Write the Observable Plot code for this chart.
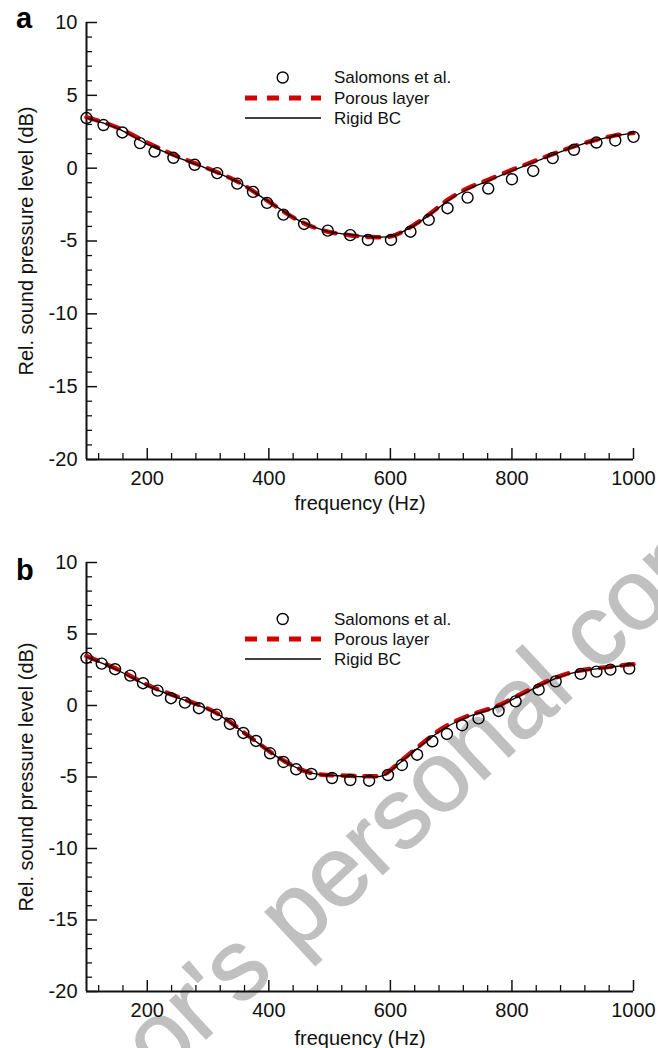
<!DOCTYPE html>
<html><head><meta charset="utf-8">
<script src="https://cdn.jsdelivr.net/npm/d3@7"></script>
<script src="https://cdn.jsdelivr.net/npm/@observablehq/plot@0.6"></script>
<style>
body{margin:0;background:#fff;font-family:"Liberation Sans",Arial,sans-serif;}
#wrap{position:relative;width:658px;height:1048px;overflow:hidden;}
.layer{position:absolute;left:0;}
</style></head><body><div id="wrap"></div>
<script>
// ---- data ----
const xMajor = [200, 400, 600, 800, 1000];
const xMinor = [120,160,240,280,320,360,440,480,520,560,640,680,720,760,840,880,920,960];
const yMajor = [-20, -15, -10, -5, 0, 5, 10];
const yMinor = [-19,-18,-17,-16,-14,-13,-12,-11,-9,-8,-7,-6,-4,-3,-2,-1,1,2,3,4,6,7,8,9];
const legendLabels = ["Salomons et al.", "Porous layer", "Rigid BC"];
const xTitle = "frequency (Hz)";
const yTitle = "Rel. sound pressure level (dB)";
const watermarkText = "Author's personal copy";

// panel a
const aFreq = [100,128,159,188,212,243,278,315,348,374,397,424,458,497,534,563,601,633,663,694,727,761,800,835,867,902,939,970,1000];
const aMeas = [3.44,2.96,2.45,1.72,1.14,0.71,0.23,-0.34,-1.06,-1.63,-2.38,-3.19,-3.83,-4.29,-4.6,-4.93,-4.93,-4.36,-3.55,-2.75,-2.02,-1.40,-0.76,-0.19,0.69,1.26,1.76,1.90,2.15];
const aCurveFreq = [100,150,200,250,300,350,400,450,493,530,563,601,633,666,694,727,761,800,835,867,902,939,970,1000];
const aRigid  = [3.45,2.75,1.65,0.74,-0.06,-0.97,-2.3,-3.6,-4.3,-4.55,-4.7,-4.68,-4.08,-3.16,-2.25,-1.45,-0.87,-0.19,0.39,0.91,1.46,1.92,2.22,2.4];
const aPorous = [3.5,2.8,1.75,0.8,-0.02,-0.95,-2.3,-3.62,-4.32,-4.58,-4.72,-4.68,-4.05,-3.1,-2.18,-1.38,-0.8,-0.12,0.45,0.97,1.5,1.95,2.25,2.42];

// panel b
const bFreq = [100,125,147,172,193,217,239,262,285,314,336,358,379,402,424,445,470,504,534,565,596,619,644,669,693,718,745,778,806,844,872,913,939,962,993];
const bMeas = [3.33,2.93,2.54,2.09,1.56,1.04,0.51,0.2,-0.19,-0.64,-1.29,-1.92,-2.48,-3.34,-3.95,-4.46,-4.79,-5.07,-5.21,-5.26,-4.86,-4.16,-3.44,-2.5,-1.99,-1.38,-0.90,-0.38,0.29,1.11,1.69,2.21,2.37,2.51,2.58];
const bCurveFreq = [100,150,205,260,315,369,424,468,534,561,588,620,654,687,726,775,808,841,874,912,961,993,1000];
const bRigid  = [3.4,2.5,1.28,0.39,-0.59,-2.22,-3.86,-4.72,-4.95,-4.98,-4.9,-3.86,-2.69,-1.64,-0.82,-0.12,0.58,1.28,1.93,2.4,2.67,2.84,2.86];
const bPorous = [3.45,2.55,1.35,0.45,-0.55,-2.2,-3.85,-4.7,-4.92,-4.95,-4.85,-3.78,-2.6,-1.55,-0.75,-0.05,0.65,1.35,1.98,2.45,2.7,2.86,2.88];

// ---- layout ----
const W = 658, ML = 86, MR = 25;
const FONT = '"Liberation Sans", Arial, sans-serif';
const RED = "#d40000";
const panels = [
  {letter:"a", top:0, height:515, mt:22, mb:56, xLabOff:50, rows:[77.5,98,118], letterY:28,
   f:aFreq, m:aMeas, cf:aCurveFreq, rigid:aRigid, porous:aPorous},
  {letter:"b", top:515, height:533, mt:47, mb:57, xLabOff:53, rows:[104,124,144], letterY:65,
   f:bFreq, m:bMeas, cf:bCurveFreq, rigid:bRigid, porous:bPorous}
];

const wrap = d3.select("#wrap");

// watermark (behind the charts)
const wm = wrap.append("svg").attr("class","layer").style("top","0px")
  .attr("width", W).attr("height", 1048);
wm.append("text").attr("x", 10).attr("y", 1222)
  .attr("transform", "rotate(-43,10,1222)")
  .attr("font-size", 100).attr("font-family", FONT).attr("fill", "#c0c0c0")
  .attr("stroke", "#c0c0c0").attr("stroke-width", 1.2)
  .text(watermarkText);

for (const p of panels) {
  const pw = W - ML - MR;
  const ph = p.height - p.mt - p.mb;
  const pts = p.f.map((f, i) => ({f, v: p.m[i]}));
  const rig = p.cf.map((f, i) => ({f, v: p.rigid[i]}));
  const por = p.cf.map((f, i) => ({f, v: p.porous[i]}));
  const chart = Plot.plot({
    width: W, height: p.height,
    marginLeft: ML, marginRight: MR, marginTop: p.mt, marginBottom: p.mb,
    style: {background: "transparent", fontFamily: FONT, fontSize: "20px", color: "#111", overflow: "visible"},
    x: {domain: [100, 1000]},
    y: {domain: [-20, 10]},
    marks: [
      Plot.axisX(xMajor, {tickSize: 0, tickPadding: 11, tickFormat: d => String(d), fontSize: 20,
        label: xTitle, labelAnchor: "center", labelOffset: p.xLabOff, labelArrow: "none"}),
      Plot.axisY(yMajor, {tickSize: 0, tickPadding: 9, tickFormat: d => String(d), fontSize: 20,
        label: yTitle, labelAnchor: "center", labelOffset: 68, labelArrow: "none"}),
      Plot.tickY(yMajor, {y: d => d, insetRight: pw - 11, stroke: "#111", strokeWidth: 1.5}),
      Plot.tickY(yMinor, {y: d => d, insetRight: pw - 6, stroke: "#111", strokeWidth: 1.3}),
      Plot.tickX(xMajor, {x: d => d, insetTop: ph - 11, stroke: "#111", strokeWidth: 1.5}),
      Plot.tickX(xMinor, {x: d => d, insetTop: ph - 6, stroke: "#111", strokeWidth: 1.3}),
      Plot.ruleX([100], {stroke: "#111", strokeWidth: 2}),
      Plot.ruleY([-20], {stroke: "#111", strokeWidth: 2}),
      Plot.line(por, {x: "f", y: "v", stroke: RED, strokeWidth: 4.5, strokeDasharray: "12,10", curve: "catmull-rom"}),
      Plot.line(rig, {x: "f", y: "v", stroke: "#000", strokeWidth: 1.3, curve: "catmull-rom"}),
      Plot.dot(pts, {x: "f", y: "v", r: 5.5, stroke: "#000", strokeWidth: 1.4, fill: "none"})
    ]
  });
  const div = wrap.append("div").attr("class","layer").style("top", p.top + "px");
  div.node().appendChild(chart);

  // overlay: panel letter + legend
  const ov = wrap.append("svg").attr("class","layer").style("top", p.top + "px")
    .attr("width", W).attr("height", p.height).style("pointer-events","none");
  ov.append("text").attr("x", 16).attr("y", p.letterY).attr("font-family", FONT)
    .attr("font-weight", "bold").attr("font-size", 29).attr("fill", "#000").text(p.letter);
  ov.append("circle").attr("cx", 282.7).attr("cy", p.rows[0]).attr("r", 5.5)
    .attr("fill", "none").attr("stroke", "#000").attr("stroke-width", 1.4);
  ov.append("line").attr("x1", 245).attr("x2", 321).attr("y1", p.rows[1]).attr("y2", p.rows[1])
    .attr("stroke", RED).attr("stroke-width", 5).attr("stroke-dasharray", "12,10");
  ov.append("line").attr("x1", 245).attr("x2", 321).attr("y1", p.rows[2]).attr("y2", p.rows[2])
    .attr("stroke", "#000").attr("stroke-width", 1.3);
  legendLabels.forEach((t, i) => {
    ov.append("text").attr("x", 334).attr("y", p.rows[i]).attr("dy", "0.35em")
      .attr("font-family", FONT).attr("font-size", 17).attr("fill", "#111").text(t);
  });
}
</script></body></html>
